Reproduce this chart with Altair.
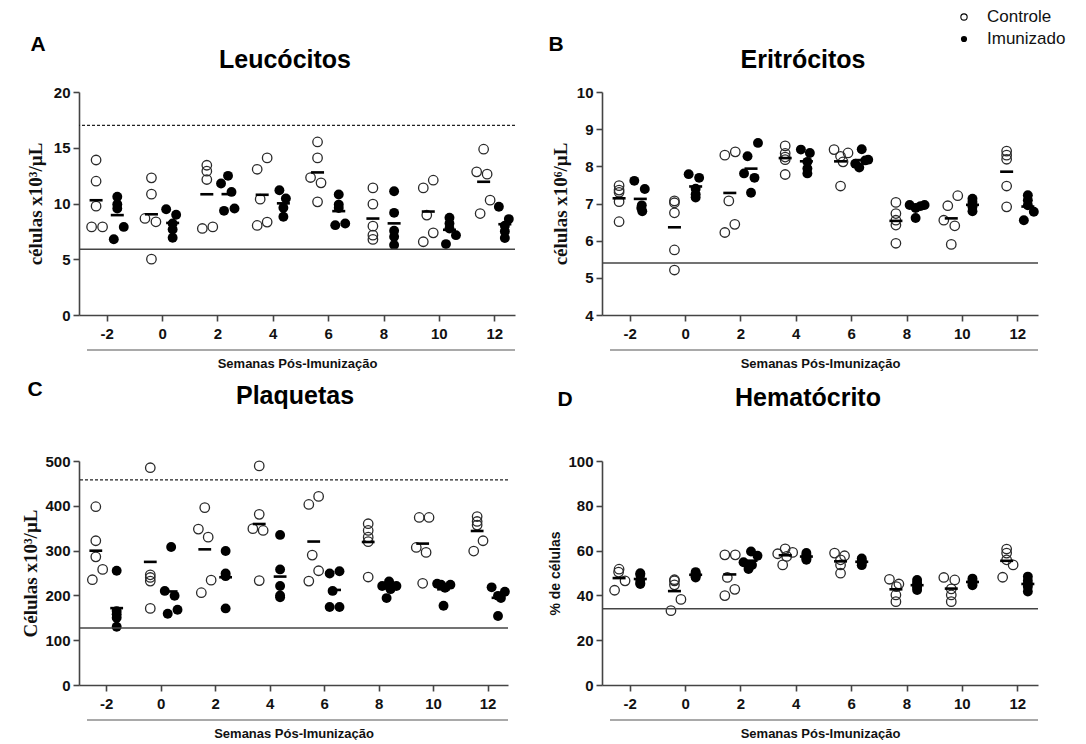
import altair as alt
import pandas as pd

weeks = [-2, 0, 2, 4, 6, 8, 10, 12]
groups = ["Controle", "Imunizado"]
letters = ["A", "B", "C", "D"]
titles = ["Leucócitos", "Eritrócitos", "Plaquetas", "Hematócrito"]
ytitles = ["células x10³/µL", "células x10⁶/µL", "Células x10³/µL", "% de células"]
xtitle = "Semanas Pós-Imunização"

# ---- A: Leucócitos ----
leuco_ctrl = [[13.9, 12.0, 9.76, 7.9, 7.9], [12.3, 10.84, 8.66, 8.36, 5.01],
              [13.43, 12.9, 12.15, 7.76, 7.9], [14.09, 13.07, 10.39, 8.03, 8.33],
              [15.52, 14.09, 12.33, 11.85, 10.15], [11.4, 9.94, 7.97, 7.16, 6.78],
              [12.09, 11.4, 8.96, 7.37, 6.57], [14.87, 12.84, 12.63, 10.3, 9.1]]
leuco_ctrl_slot = [[0, 0, 0, -0.9, 1.3], [0, 0, -1.3, 0.9, 0], [0, 0, 0, -0.9, 1.2],
                   [1, -1, -0.4, -1, 1], [0, 0, -1.4, 0.7, 0], [0, 0, 0, 0, 0],
                   [1, -1, -0.3, 1, -1], [0, -1.4, 0.7, 1.3, -0.7]]
leuco_imm = [[10.6, 9.94, 9.55, 7.9, 6.8], [9.49, 8.99, 8.2, 7.67, 6.93],
             [12.48, 11.79, 11.04, 9.34, 9.55], [11.19, 10.45, 9.61, 8.81],
             [10.81, 9.9, 9.6, 8.06, 8.21], [11.1, 9.16, 7.55, 7.01, 6.27],
             [8.72, 8.21, 7.76, 7.16, 6.36], [9.71, 8.6, 8.0, 7.5, 6.9]]
leuco_imm_slot = [[0, 0, 0, 1.3, -0.7], [-1.3, 0.7, 0, 0, 0], [0, -1.4, 0.7, -0.8, 1.3],
                  [-0.8, 0.5, 0, 0], [0, 0, 0, -0.7, 1.3], [0, 0, 0, 0, 0],
                  [0, 0, 0, 1.3, -0.7], [-1.2, 0.8, 0, 0, 0]]
leuco_dashed = [17.0]
leuco_solid = [5.9]

# ---- B: Eritrócitos ----
eri_ctrl = [[7.48, 7.36, 7.3, 7.05, 6.51], [7.07, 7.02, 6.75, 5.75, 5.21],
            [8.3, 8.39, 7.07, 6.44, 6.22], [8.55, 8.35, 8.25, 8.18, 7.78],
            [8.45, 8.27, 8.36, 8.12, 7.47], [7.03, 6.73, 6.55, 6.42, 5.93],
            [7.21, 6.94, 6.55, 6.4, 5.9], [8.41, 8.3, 8.19, 7.47, 6.91]]
eri_ctrl_slot = [[0, 0, 0, 0, 0], [0, 0, 0, 0, 0], [-1, 1.1, -0.2, 1, -1],
                 [0, 0, 0, 0, 0], [-1.3, 0, 1.5, 0.5, 0], [0, 0, 0, 0, 0],
                 [1.3, -0.7, -1.5, 0.7, 0], [0, 0, 0, 0, 0]]
eri_imm = [[7.61, 7.39, 6.95, 6.88, 6.79], [7.79, 7.69, 7.4, 7.25, 7.16],
           [8.63, 8.27, 7.81, 7.69, 7.29], [8.45, 8.36, 8.12, 7.94, 7.81],
           [8.46, 8.18, 8.07, 7.97, 8.16], [6.96, 6.88, 6.93, 6.96, 6.61],
           [7.13, 7.04, 6.95, 6.91, 6.79], [7.22, 7.09, 6.95, 6.78, 6.55]]
eri_imm_slot = [[-1.2, 0.9, 0.3, 0.2, 0.4], [-1.4, 0.7, 0, 0, 0], [1.4, -0.7, -1.4, 0.7, 0],
                [-1.1, 0.7, 0.2, 0.2, 0.2], [0, 1.3, -1.3, -0.5, 0.7],
                [-1.5, -0.3, 0.7, 1.5, -0.3], [0, 0, 0, 0, 0], [0, 0, 0, 1.2, -0.8]]
eri_dashed = []
eri_solid = [5.4]

# ---- C: Plaquetas ----
plaq_ctrl = [[398, 322, 286, 258, 235], [485, 246, 240, 232, 171],
             [396, 348, 330, 234, 206], [489, 381, 349, 345, 233],
             [403, 421, 290, 255, 232], [360, 345, 330, 320, 241],
             [374, 374, 307, 296, 227], [376, 365, 357, 322, 299]]
plaq_ctrl_slot = [[0, 0, 0, 1.4, -0.7], [0, 0, 0, 0, 0], [0, -1.3, 0.7, 1.3, -0.7],
                  [0, 0, -1.3, 0.8, 0], [-1, 1, -0.3, 1, -1], [0, 0, 0, 0, 0],
                  [-0.7, 1.3, -1.3, 0.7, 0], [0, 0, 0, 1.2, -0.7]]
plaq_imm = [[255, 165, 158, 150, 130], [308, 210, 199, 168, 159],
            [299, 249, 243, 171], [335, 258, 221, 200, 196],
            [249, 254, 210, 174, 174], [231, 221, 214, 221, 194],
            [226, 224, 217, 224, 177], [218, 208, 199, 194, 154]]
plaq_imm_slot = [[0, 0, 0, 0, 0], [0, -1.3, 0.7, 1.3, -0.7], [0, 0, 0, 0],
                 [0, 0, 0, 0, 0], [-1, 1, -0.4, -1, 1], [0, -1.4, 0.3, 1.5, -0.5],
                 [-1.3, 1.4, 0.3, -0.5, 0], [-1.3, 1.4, 0, 0.6, 0]]
plaq_dashed = [458]
plaq_solid = [127]

# ---- D: Hematócrito ----
hema_ctrl = [[51.7, 50.4, 46.5, 42.3], [47.0, 46.5, 44.7, 38.2, 33.2],
             [58.1, 58.1, 48.0, 42.7, 39.9], [60.8, 58.6, 59.2, 57.4, 53.6],
             [58.9, 57.7, 55.9, 53.6, 49.9], [47.2, 45.1, 43.9, 40.2, 37.2],
             [48.0, 46.9, 42.9, 40.2, 37.2], [60.7, 58.9, 55.9, 53.6, 48.1]]
hema_ctrl_slot = [[0, -0.1, 1.2, -0.9], [0, 0, 0, 1.3, -0.7], [-1, 1.1, -0.5, 1, -1],
                  [0, -1.5, 1.5, 0.3, -0.5], [-1.2, 0.8, 0, 0, 0], [-1.3, 0.6, 0.1, 0, 0],
                  [-1.5, 0.7, 0, 0, 0], [0, 0, 0, 1.3, -0.8]]
hema_imm = [[49.9, 49.2, 46.9, 45.5, 45.1], [50.4, 49.8, 49.2, 48.6, 48.0],
            [59.6, 57.7, 54.8, 53.6, 51.8], [58.9, 58.0, 57.4, 56.5, 55.9],
            [56.5, 55.5, 55.0, 54.5, 53.5], [46.9, 45.5, 44.5, 43.5, 42.4],
            [47.5, 46.5, 45.5, 44.5], [48.4, 46.5, 45.0, 43.9, 41.7]]
hema_imm_slot = [[0, 0, 0, 0, 0], [0, 0, 0, 0, 0], [0, 1.3, -1.5, 0.2, -0.5],
                 [0, 0, 0, 0, 0], [0, 0, 0, 0, 0], [0, 0, 0, 0, 0],
                 [0, 0, 0, 0], [0, 0, 0, 0, 0]]
hema_dashed = []
hema_solid = [34]

SIDE = 0.383   # half distance between group columns (weeks)
SLOT = 0.18    # jitter step (weeks)
HALF = 0.235   # half width of mean bar (weeks)
SANS = "Liberation Sans"
SERIF = "Liberation Serif"


def build(ctrl, ctrl_slot, imm, imm_slot):
    rows = []
    for wi, w in enumerate(weeks):
        for g, vals, slots in ((groups[0], ctrl[wi], ctrl_slot[wi]),
                               (groups[1], imm[wi], imm_slot[wi])):
            for v, s in zip(vals, slots):
                rows.append({"week": w, "group": g, "value": v, "slot": s})
    return pd.DataFrame(rows)


def panel(df, W, H, ydom, yvals, idx, ytfont, ytsize, ytpad,
          letter_xy, title_xy, dashed, solid, legend=False):
    xscale = alt.Scale(domain=[-3, 12.75], nice=False, zero=False)
    yscale = alt.Scale(domain=ydom, nice=False, zero=False)
    xaxis = alt.Axis(values=weeks, labelExpr="'' + datum.value", title=xtitle,
                     titleFont=SANS, titleFontSize=13, titleFontWeight="bold",
                     titlePadding=16, labelPadding=5)
    yaxis = alt.Axis(values=yvals, title=ytitles[idx], titleFont=ytfont,
                     titleFontSize=ytsize, titleFontWeight="bold", titlePadding=ytpad,
                     labelPadding=3)
    side_expr = "datum.group == 'Controle' ? -1 : 1"
    pts = alt.Chart(df).transform_calculate(side=side_expr).transform_calculate(
        pos=f"datum.week + datum.side * {SIDE} + datum.slot * {SLOT}")
    ctrl = pts.transform_filter(f"datum.group == '{groups[0]}'").mark_point(
        shape="circle", filled=False, size=90, stroke="#2a2a2a", strokeWidth=1.3,
        opacity=1).encode(
        x=alt.X("pos:Q", scale=xscale, axis=xaxis),
        y=alt.Y("value:Q", scale=yscale, axis=yaxis))
    imm = pts.transform_filter(f"datum.group == '{groups[1]}'").mark_point(
        shape="circle", filled=True, size=98, color="#000000", opacity=1).encode(
        x=alt.X("pos:Q", scale=xscale, axis=xaxis),
        y=alt.Y("value:Q", scale=yscale, axis=yaxis))
    means = alt.Chart(df).transform_aggregate(
        mean="mean(value)", groupby=["week", "group"]).transform_calculate(
        side=side_expr).transform_calculate(
        c=f"datum.week + datum.side * {SIDE}").transform_calculate(
        x1=f"datum.c - {HALF}", x2=f"datum.c + {HALF}").mark_rule(
        strokeWidth=2.6, color="#000000").encode(
        x=alt.X("x1:Q", scale=xscale, axis=xaxis), x2="x2:Q",
        y=alt.Y("mean:Q", scale=yscale, axis=yaxis))
    layers = [ctrl, imm, means]
    if solid:
        layers.append(alt.Chart(pd.DataFrame({"v": solid})).mark_rule(
            color="#444444", strokeWidth=1.5).encode(
            y=alt.Y("v:Q", scale=yscale, axis=yaxis)))
    if dashed:
        layers.append(alt.Chart(pd.DataFrame({"v": dashed})).mark_rule(
            color="#222222", strokeWidth=1.2, strokeDash=[3, 2]).encode(
            y=alt.Y("v:Q", scale=yscale, axis=yaxis)))
    bracket = alt.Chart(pd.DataFrame({"a": [0]})).mark_rule(
        color="#555555", strokeWidth=1.2).encode(
        x=alt.value(8), x2=alt.value(W), y=alt.value(H + 35))
    let = alt.Chart(pd.DataFrame({"t": [letters[idx]]})).mark_text(
        font=SANS, fontSize=21, fontWeight="bold", align="center",
        baseline="middle", color="#000000").encode(
        text="t:N", x=alt.value(letter_xy[0]), y=alt.value(letter_xy[1]))
    tit = alt.Chart(pd.DataFrame({"t": [titles[idx]]})).mark_text(
        font=SANS, fontSize=25, fontWeight="bold", align="center",
        baseline="middle", color="#000000").encode(
        text="t:N", x=alt.value(title_xy[0]), y=alt.value(title_xy[1]))
    layers += [bracket, let, tit]
    if legend:
        lg = pd.DataFrame({"g": groups})
        for gi, yy in ((0, -75), (1, -53)):
            sub = alt.Chart(lg).transform_filter(f"datum.g == '{groups[gi]}'")
            layers.append(sub.mark_point(
                shape="circle", filled=(gi == 1), size=40 if gi == 0 else 38,
                color="#000000", strokeWidth=1.1, opacity=1).encode(
                x=alt.value(362), y=alt.value(yy)))
            layers.append(sub.mark_text(
                font=SANS, fontSize=17, align="left", baseline="middle",
                color="#111111").encode(
                text="g:N", x=alt.value(385), y=alt.value(yy)))
    return alt.layer(*layers).properties(width=W, height=H)


dfA = build(leuco_ctrl, leuco_ctrl_slot, leuco_imm, leuco_imm_slot)
dfB = build(eri_ctrl, eri_ctrl_slot, eri_imm, eri_imm_slot)
dfC = build(plaq_ctrl, plaq_ctrl_slot, plaq_imm, plaq_imm_slot)
dfD = build(hema_ctrl, hema_ctrl_slot, hema_imm, hema_imm_slot)

pA = panel(dfA, 436, 223, [0, 20], [0, 5, 10, 15, 20], 0, SERIF, 19, 8,
           (-41, -47), (206, -32), leuco_dashed, leuco_solid)
pB = panel(dfB, 436, 223, [4, 10], [4, 5, 6, 7, 8, 9, 10], 1, SERIF, 19, 6,
           (-46, -47), (201, -32), eri_dashed, eri_solid, legend=True)
pC = panel(dfC, 429, 224, [0, 500], [0, 100, 200, 300, 400, 500], 2, SERIF, 19, 4,
           (-44, -71), (216, -65), plaq_dashed, plaq_solid)
pD = panel(dfD, 436, 224, [0, 100], [0, 20, 40, 60, 80, 100], 3, SANS, 14, 5,
           (-37, -61), (206, -63), hema_dashed, hema_solid)

row1 = alt.hconcat(pA, pB, spacing=32)
row2 = alt.hconcat(pC, pD, spacing=38)
chart = alt.vconcat(row1, row2, spacing=9).properties(
    padding={"left": 13, "top": 0, "right": 0, "bottom": 0},
    background="white",
).configure_view(stroke=None).configure_axis(
    grid=False, domainColor="#444444", domainWidth=1.6, tickColor="#444444",
    tickWidth=1.6, tickSize=6, labelFont=SANS, labelFontSize=15,
    labelFontWeight="bold", labelColor="#111111", titleColor="#111111",
)

chart.save("out.html", embed_options={"renderer": "svg", "actions": False})
